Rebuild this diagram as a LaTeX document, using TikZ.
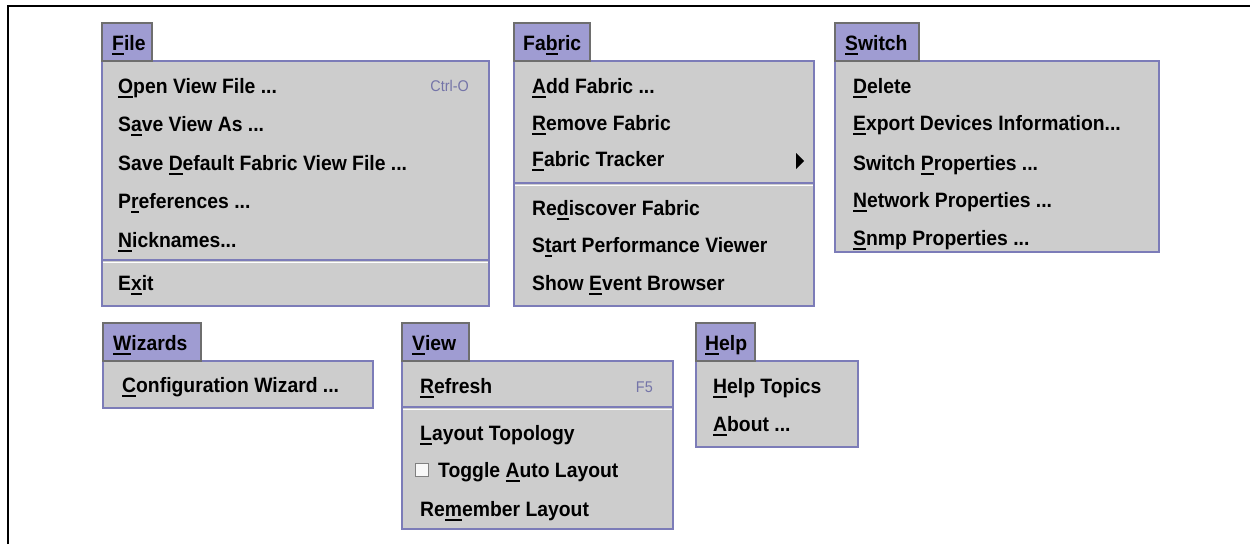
\documentclass[tikz,border=0pt]{standalone}
\usepackage{fontspec}
\setmainfont{Liberation Sans}
\newfontfamily\menufont[FakeStretch=0.93]{Liberation Sans}
\definecolor{tabfill}{HTML}{9F9CD2}
\definecolor{tabedge}{HTML}{6E6E6E}
\definecolor{menufill}{HTML}{CDCDCD}
\definecolor{menuedge}{HTML}{7C7CB8}
\definecolor{accelgray}{HTML}{7474A8}
\newsavebox\mnembox
\newcommand\mnem[1]{\sbox\mnembox{#1}\rlap{\rule[-5pt]{\wd\mnembox}{2pt}}\usebox\mnembox}
\tikzset{
  menutab/.style={draw=tabedge,fill=tabfill,line width=1.3pt},
  menubody/.style={draw=menuedge,fill=menufill,line width=1.6pt},
  menuitem/.style={anchor=base west,inner sep=0pt,font=\menufont\fontsize{20.8}{24}\selectfont\bfseries},
  accel/.style={anchor=base east,inner sep=0pt,text=accelgray,font=\menufont\fontsize{15.5}{18}\selectfont},
  menusep/.style={draw=menuedge,line width=1.6pt},
  sepglow/.style={draw=white,line width=1.2pt}
}
\begin{document}
\begin{tikzpicture}[x=1pt,y=-1pt]
\useasboundingbox (0,0) rectangle (1250,544);
\draw[line width=2pt] (8,544) -- (8,6) -- (1250,6);
\draw[menubody] (102,61) rectangle (489,306);
\draw[menusep] (102,260) -- (489,260);
\draw[sepglow] (103,262.5) -- (488,262.5);
\draw[menutab] (102,23) rectangle (152,61);
\node[menuitem] (fileTab) at (112,50) {\mnem{F}ile};
\node[menuitem] (fileOpen) at (118,93) {\mnem{O}pen View File ...};
\node[accel] (fileCtrl) at (469,91) {Ctrl-O};
\node[menuitem] (fileSaveAs) at (118,131) {S\mnem{a}ve View As ...};
\node[menuitem] (fileDefault) at (118,170) {Save \mnem{D}efault Fabric View File ...};
\node[menuitem] (filePrefs) at (118,208) {P\mnem{r}eferences ...};
\node[menuitem] (fileNick) at (118,247) {\mnem{N}icknames...};
\node[menuitem] (fileExit) at (118,290) {E\mnem{x}it};
\draw[menubody] (514,61) rectangle (814,306);
\draw[menusep] (514,183) -- (814,183);
\draw[sepglow] (515,185.5) -- (813,185.5);
\draw[menutab] (514,23) rectangle (590,61);
\node[menuitem] (fabTab) at (523,50) {Fa\mnem{b}ric};
\node[menuitem] (fabAdd) at (532,93) {\mnem{A}dd Fabric ...};
\node[menuitem] (fabRemove) at (532,130) {\mnem{R}emove Fabric};
\node[menuitem] (fabTracker) at (532,166) {\mnem{F}abric Tracker};
\fill (796,153) -- (804,161) -- (796,169) -- cycle;
\node[menuitem] (fabRedisc) at (532,215) {Re\mnem{d}iscover Fabric};
\node[menuitem] (fabPerf) at (532,252) {S\mnem{t}art Performance Viewer};
\node[menuitem] (fabEvent) at (532,290) {Show \mnem{E}vent Browser};
\draw[menubody] (835,61) rectangle (1159,252);
\draw[menutab] (835,23) rectangle (919,61);
\node[menuitem] (swTab) at (845,50) {\mnem{S}witch};
\node[menuitem] (swDelete) at (853,93) {\mnem{D}elete};
\node[menuitem] (swExport) at (853,130) {\mnem{E}xport Devices Information...};
\node[menuitem] (swProps) at (853,170) {Switch \mnem{P}roperties ...};
\node[menuitem] (swNet) at (853,207) {\mnem{N}etwork Properties ...};
\node[menuitem] (swSnmp) at (853,245) {\mnem{S}nmp Properties ...};
\draw[menubody] (103,361) rectangle (373,408);
\draw[menutab] (103,323) rectangle (201,361);
\node[menuitem] (wizTab) at (113,350) {\mnem{W}izards};
\node[menuitem] (wizConf) at (122,392) {\mnem{C}onfiguration Wizard ...};
\draw[menubody] (402,361) rectangle (673,529);
\draw[menusep] (402,407) -- (673,407);
\draw[sepglow] (403,409.5) -- (672,409.5);
\draw[menutab] (402,323) rectangle (469,361);
\node[menuitem] (viewTab) at (412,350) {\mnem{V}iew};
\node[menuitem] (viewRefresh) at (420,393) {\mnem{R}efresh};
\node[accel] (viewKey) at (653,392) {F5};
\node[menuitem] (viewLayout) at (420,440) {\mnem{L}ayout Topology};
\draw[draw=gray,fill=white!85!menufill,line width=1pt] (415,463) rectangle (428,476);
\node[menuitem] (viewToggle) at (438,477) {Toggle \mnem{A}uto Layout};
\node[menuitem] (viewRemember) at (420,516) {Re\mnem{m}ember Layout};
\draw[menubody] (696,361) rectangle (858,447);
\draw[menutab] (696,323) rectangle (755,361);
\node[menuitem] (helpTab) at (705,350) {\mnem{H}elp};
\node[menuitem] (helpTopics) at (713,393) {\mnem{H}elp Topics};
\node[menuitem] (helpAbout) at (713,431) {\mnem{A}bout ...};
\end{tikzpicture}
\end{document}
